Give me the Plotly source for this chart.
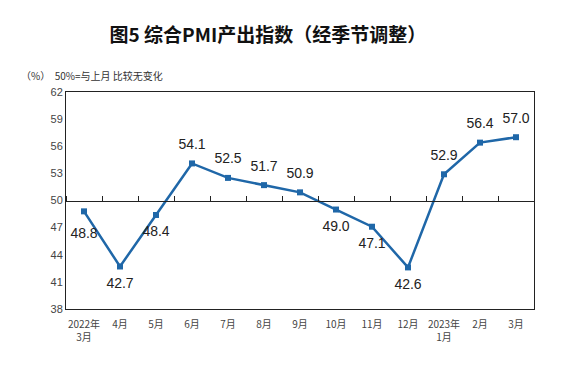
import plotly.graph_objects as go

categories = ["2022年<br>3月", "4月", "5月", "6月", "7月", "8月", "9月", "10月", "11月", "12月", "2023年<br>1月", "2月", "3月"]
values = [48.8, 42.7, 48.4, 54.1, 52.5, 51.7, 50.9, 49.0, 47.1, 42.6, 52.9, 56.4, 57.0]
label_pos = ["bottom center", "bottom center", "bottom center", "top center", "top center", "top center",
             "top center", "bottom center", "bottom center", "bottom center", "top center", "top center", "top center"]
label_gap = [24, 16, 16, 16, 16, 16, 16, 16, 16, 16, 16, 16, 16]
y_ticks = [38, 41, 44, 47, 50, 53, 56, 59, 62]

blue = "#1f67a8"
font_cn = "Noto Sans CJK SC"

fig = go.Figure()
fig.add_trace(go.Scatter(
    x=categories, y=values, mode="lines+markers",
    line=dict(color=blue, width=2.5),
    marker=dict(symbol="square", size=6, color=blue),
    showlegend=False,
))
# labels (transparent markers only set the text offset)
fig.add_trace(go.Scatter(
    x=categories, y=values, mode="markers+text",
    marker=dict(size=label_gap, opacity=0),
    text=[f"{v:.1f}" for v in values], textposition=label_pos,
    textfont=dict(family="Liberation Sans, Arial", size=14, color="#222"),
    cliponaxis=False, showlegend=False, hoverinfo="skip",
))
# invisible trace for the crossing axis at 50
fig.add_trace(go.Scatter(x=categories, y=values, xaxis="x2", mode="none",
                         showlegend=False, hoverinfo="skip"))

fig.update_layout(
    width=575, height=377,
    margin=dict(l=66, r=41, t=92, b=68, autoexpand=False),
    paper_bgcolor="white", plot_bgcolor="white",
    title=dict(text="图5 综合PMI产出指数（经季节调整）", x=0.466, xanchor="center",
               y=0.905, yanchor="middle", automargin=False,
               font=dict(family=font_cn, size=19, color="#111", weight=600)),
    xaxis=dict(type="category", showgrid=False, showline=True, linecolor="#222", linewidth=1,
               mirror=True, ticks="", tickfont=dict(family=font_cn, size=10, color="#444"),
               ticklabelstandoff=6, range=[-0.5, 12.5], automargin=False),
    xaxis2=dict(type="category", overlaying="x", matches="x", anchor="free", position=0.5,
                side="top", showline=True, linecolor="#222", linewidth=1, ticks="outside",
                ticklen=5, tickcolor="#222", tickson="boundaries", showticklabels=False,
                showgrid=False, automargin=False),
    yaxis=dict(range=[38, 62], tickvals=y_ticks, showgrid=False, zeroline=False,
               showline=True, linecolor="#222", linewidth=1, mirror=True, ticks="",
               tickfont=dict(family="Liberation Sans, Arial", size=11, color="#444"),
               automargin=False),
    annotations=[dict(text="（%）  50%=与上月 比较无变化", xref="paper", yref="paper",
                      x=-0.1, y=1.075, xanchor="left", yanchor="middle", showarrow=False,
                      font=dict(family=font_cn, size=10, color="#333"))],
)

fig.write_html("out.html", post_script="document.body.style.margin='0';",
               config={"displayModeBar": False})
